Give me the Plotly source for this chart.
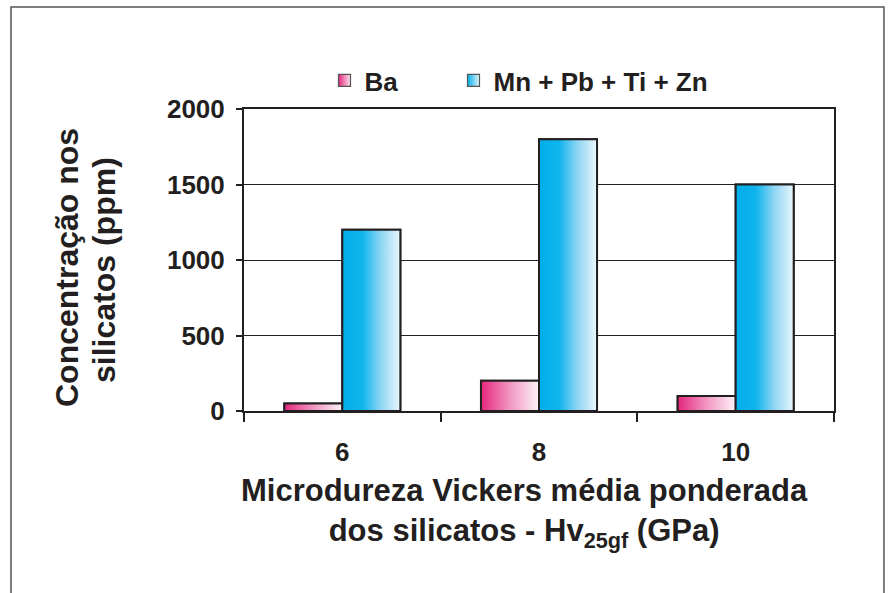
import plotly.graph_objects as go

categories = ["6", "8", "10"]
ba_values = [50, 200, 100]
mn_values = [1200, 1800, 1500]
series_names = ["Ba", "Mn + Pb + Ti + Zn"]
y_ticks = [0, 500, 1000, 1500, 2000]

FONT = "Liberation Sans, Arial, sans-serif"
INK = "#231f20"
BAR_W = 0.295
series = [
    (series_names[0], ba_values, -BAR_W,
     [[0, "#e4267d"], [0.45, "#f08cbb"], [1, "#fdf3f8"]], "#e4267d", "#fbe3ee", "legend"),
    (series_names[1], mn_values, 0.0,
     [[0, "#00aeea"], [0.35, "#10b4ec"], [0.65, "#8ad4f4"], [1, "#eaf7fd"]], "#00aeea", "#e2f5fd", "legend2"),
]

idx = list(range(len(categories)))
fig = go.Figure()

# underlying bars (library bar scale)
for name, vals, off, cs, base, light, lg in series:
    fig.add_trace(go.Bar(x=idx, y=vals, width=BAR_W, offset=off, name=name,
                         marker=dict(color=base, line=dict(color=INK, width=2)),
                         showlegend=False, hoverinfo="skip"))

# gradient overlays built from the same values
for name, vals, off, cs, base, light, lg in series:
    for i, v in zip(idx, vals):
        x0 = i + off
        x1 = x0 + BAR_W
        fig.add_trace(go.Scatter(
            x=[x0, x0, x1, x1, x0], y=[0, v, v, 0, 0],
            mode="lines", fill="toself",
            fillgradient=dict(type="horizontal", colorscale=cs),
            line=dict(color=INK, width=2),
            name=name, legendgroup=name, showlegend=False,
            hoverinfo="skip"))

# legend entries (small gradient squares)
for name, vals, off, cs, base, light, lg in series:
    fig.add_trace(go.Scatter(
        x=[None], y=[None], mode="markers", name=name, legendgroup=name, legend=lg,
        marker=dict(symbol="square", size=12, color=base,
                    gradient=dict(type="horizontal", color=light),
                    line=dict(color="#555555", width=1.2))))

legend_common = dict(orientation="h", y=1.172, xanchor="left", yanchor="top",
                     font=dict(family=FONT, size=26, color=INK, weight="bold"),
                     bgcolor="rgba(0,0,0,0)", itemwidth=30)

fig.update_layout(
    width=891, height=593,
    paper_bgcolor="white", plot_bgcolor="white",
    margin=dict(l=244, r=57, t=109, b=182),
    font=dict(family=FONT, color=INK, size=20),
    barmode="overlay",
    showlegend=True,
    legend=dict(x=(344 - 19.5 - 244) / 590, **legend_common),
    legend2=dict(x=(473 - 19.5 - 244) / 590, **legend_common),
    xaxis=dict(range=[-0.5, 2.5], tickmode="array", tickvals=idx, ticktext=categories,
               ticks="", showgrid=False, zeroline=False,
               showline=True, linecolor=INK, linewidth=2, mirror=True,
               tickfont=dict(family=FONT, size=26, color=INK, weight="bold"),
               ticklabelstandoff=17,
               minor=dict(tickmode="array", tickvals=[-0.5, 0.5, 1.5, 2.5],
                          ticks="outside", ticklen=9, tickwidth=2, tickcolor=INK,
                          showgrid=False)),
    yaxis=dict(range=[0, 2000], tickmode="array", tickvals=y_ticks,
               ticks="outside", ticklen=6, tickwidth=2, tickcolor=INK,
               showgrid=True, gridcolor=INK, gridwidth=1, zeroline=False,
               showline=True, linecolor=INK, linewidth=2, mirror=True,
               tickfont=dict(family=FONT, size=26, color=INK, weight="bold"),
               ticklabelstandoff=6),
    annotations=[
        dict(text="Microdureza Vickers média ponderada<br>dos silicatos - Hv<sub>25gf</sub> (GPa)",
             xref="paper", yref="paper", x=(524 - 244) / 590, y=(411 - 513) / 302,
             xanchor="center", yanchor="middle",
             showarrow=False, font=dict(family=FONT, size=31, color=INK, weight="bold")),
        dict(text="Concentração nos", textangle=-90,
             xref="paper", yref="paper", x=(67 - 244) / 590, y=(411 - 268) / 302,
             xanchor="center", yanchor="middle",
             showarrow=False, font=dict(family=FONT, size=32, color=INK, weight="bold")),
        dict(text="silicatos (ppm)", textangle=-90,
             xref="paper", yref="paper", x=(104 - 244) / 590, y=(411 - 270) / 302,
             xanchor="center", yanchor="middle",
             showarrow=False, font=dict(family=FONT, size=32, color=INK, weight="bold")),
    ],
    shapes=[
        dict(type="path", xref="paper", yref="paper",
             path="M %.4f,-0.64 L %.4f,%.4f L %.4f,%.4f L %.4f,-0.64" % (
                 (11 - 244) / 590, (11 - 244) / 590, (411 - 7) / 302,
                 (884 - 244) / 590, (411 - 7) / 302, (884 - 244) / 590),
             line=dict(color="#555555", width=1.5), layer="below"),
    ],
)

fig.write_html("out.html", config={"displayModeBar": False},
               post_script="document.body.style.margin='0px';")
